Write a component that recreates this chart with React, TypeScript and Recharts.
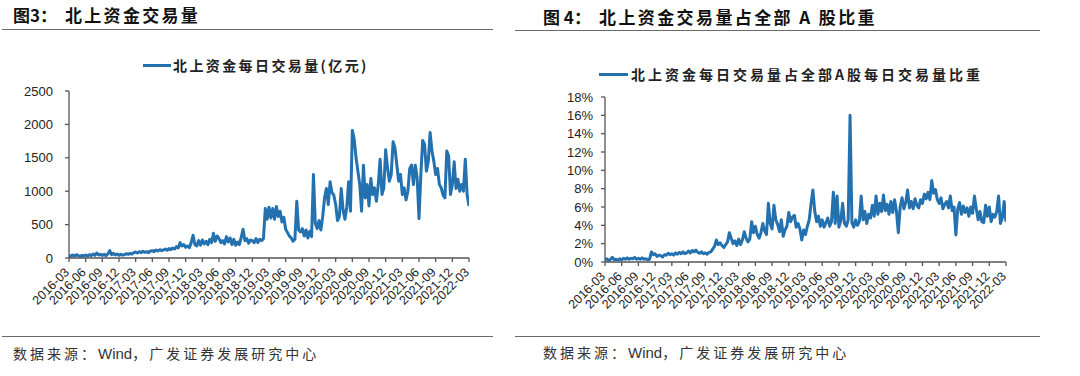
import React from 'react';
import { LineChart, Line, XAxis, YAxis } from 'recharts';

const tickLabels = [
  '2016-03', '2016-06', '2016-09', '2016-12', '2017-03', '2017-06', '2017-09', '2017-12',
  '2018-03', '2018-06', '2018-09', '2018-12', '2019-03', '2019-06', '2019-09', '2019-12',
  '2020-03', '2020-06', '2020-09', '2020-12', '2021-03', '2021-06', '2021-09', '2021-12', '2022-03',
];

// 北上资金每日交易量(亿元), ~3 readings per month from 2016-03 to 2022-03
const volumeValues = [
  40, 25, 45, 30, 50, 35, 25, 40, 30, 45, 30, 50,
  35, 60, 40, 75, 45, 55, 40, 55, 35, 60, 110, 50,
  70, 45, 60, 40, 55, 45, 50, 65, 55, 70, 60, 80,
  90, 75, 95, 80, 100, 85, 95, 80, 105, 110, 95, 120,
  105, 125, 110, 120, 135, 115, 140, 125, 150, 135, 170, 150,
  230, 180, 200, 160, 180, 155, 230, 340, 200, 180, 260, 190,
  270, 210, 250, 200, 280, 230, 370, 250, 330, 290, 230, 260,
  210, 320, 240, 300, 200, 280, 190, 240, 200, 310, 430, 260,
  290, 220, 270, 260, 230, 290, 230, 280, 260, 290, 740, 580,
  760, 600, 740, 580, 770, 620, 700, 540, 610, 430, 380, 330,
  300, 250, 280, 850, 420, 390, 440, 330, 420, 300, 400, 320,
  1250, 520, 440, 560, 420, 620, 900, 1040, 800, 1140, 980, 940,
  800, 560, 620, 1040, 720, 580, 760, 1140, 700, 1910, 1780, 1500,
  1300, 1100, 700, 1390, 900, 1100, 780, 1190, 950, 1050, 850, 1100,
  1480, 950, 1050, 1620, 1350, 1150, 1250, 1740, 1650, 1400, 1150, 1250,
  950, 1050, 870, 1000, 1340, 1390, 1100, 1390, 1200, 590, 1250, 1760,
  1700, 1300, 1440, 1880, 1600, 1450, 1250, 1340, 1100, 1050, 940, 900,
  1600, 1530, 950, 1100, 1440, 1040, 1180, 1000, 1100, 1000, 1480, 940,
  780,
];

// 北上资金每日交易量占全部A股每日交易量比重 (%)
const ratioValues = [
  0.2, 0.35, 0.15, 0.3, 0.5, 0.25, 0.3, 0.2, 0.35, 0.25, 0.4, 0.3,
  0.45, 0.3, 0.4, 0.35, 0.5, 0.3, 0.4, 0.3, 0.45, 0.3, 0.35, 0.25,
  0.3, 1.1, 0.8, 0.9, 0.6, 0.75, 0.7, 0.55, 0.8, 0.75, 0.95, 0.8,
  0.9, 0.75, 1.0, 0.85, 1.05, 0.9, 1.1, 0.9, 1.0, 1.2, 1.0, 1.25,
  1.1, 1.3, 1.05, 0.95, 1.1, 0.9, 1.0, 0.85, 1.05, 1.1, 1.4, 1.7,
  2.4, 1.9, 2.1, 1.8, 1.6, 1.9, 2.2, 3.2, 2.6, 2.0, 2.3, 1.8,
  2.5, 1.9, 2.4, 3.3, 2.6, 2.2, 2.5, 4.4, 3.2, 3.9, 3.0, 2.6,
  3.2, 4.2, 3.4, 3.0, 6.4, 4.2, 3.6, 6.2, 4.6, 4.1, 3.3, 4.6,
  2.8, 3.5, 3.9, 5.4, 4.4, 4.9, 5.1, 3.8, 4.2, 3.6, 2.4, 3.5,
  3.0, 3.9, 4.6, 6.4, 7.85, 5.5, 4.4, 5.0, 3.9, 4.6, 3.8, 4.3,
  4.8, 3.9, 4.4, 7.6, 4.2, 7.2, 3.8, 4.5, 6.4, 4.2, 3.9, 4.6,
  16.0, 4.3, 3.8, 4.6, 4.0, 4.4, 7.2, 4.6, 5.5, 4.2, 5.2, 4.8,
  6.2, 5.0, 7.2, 5.2, 6.4, 5.5, 7.3, 5.6, 6.3, 5.2, 6.6, 5.4,
  6.8, 5.5, 3.2, 6.0, 7.0, 5.8, 6.5, 7.85, 5.9, 6.6, 5.8, 6.9,
  6.2, 5.9, 6.8, 6.4, 7.4, 6.9, 7.6, 6.8, 8.9, 7.5, 7.9, 6.8,
  6.4, 7.0, 5.8, 6.3, 6.6, 5.9, 7.2, 5.6, 6.0, 2.95, 5.8, 6.5,
  5.2, 6.1, 5.4, 5.9, 5.0, 6.0, 5.3, 7.2, 5.8, 4.6, 5.5, 4.4,
  4.3, 6.2, 5.0, 6.0, 4.4, 5.2, 4.9, 5.5, 7.2, 4.2, 4.8, 6.6,
  4.4,
];

const volumeTicks = [0, 500, 1000, 1500, 2000, 2500];
const ratioTicks = [0, 2, 4, 6, 8, 10, 12, 14, 16, 18];

const volumeData = volumeValues.map((v, i) => ({ i, v }));
const ratioData = ratioValues.map((v, i) => ({ i, v }));
const xTicks = tickLabels.map((_, k) => k * 9);
const xMax = (tickLabels.length - 1) * 9;

const BLUE = '#2471b0';
const AXIS = '#555555';
const CJK = '"Noto Sans CJK SC", "Noto Sans", sans-serif';
const LATIN = '"Liberation Sans", Arial, sans-serif';

const XTick = (props: any) => {
  const { x, y, payload } = props;
  const label = tickLabels[Math.round(payload.value / 9)];
  return (
    <text
      x={0}
      y={0}
      transform={`translate(${x + 1},${y + 9}) rotate(-45)`}
      textAnchor="end"
      fontSize={12.5}
      fontFamily={LATIN}
      fill="#222"
    >
      {label}
    </text>
  );
};

const abs = (left: number, top: number, extra: React.CSSProperties = {}): React.CSSProperties => ({
  position: 'absolute',
  left,
  top,
  whiteSpace: 'nowrap',
  ...extra,
});

const titleStyle: React.CSSProperties = {
  fontFamily: CJK,
  fontWeight: 700,
  fontSize: 17,
  lineHeight: '17px',
  color: '#111',
};

const legendStyle: React.CSSProperties = {
  fontFamily: CJK,
  fontWeight: 700,
  fontSize: 14,
  lineHeight: '14px',
  color: '#222',
};

const sourceStyle: React.CSSProperties = {
  fontFamily: CJK,
  fontSize: 14,
  lineHeight: '14px',
  color: '#333',
  letterSpacing: 3,
};

const Rule = ({ left, top, width }: { left: number; top: number; width: number }) => (
  <div style={abs(left, top, { width, height: 0, borderTop: '1.5px solid #6a6a6a' })} />
);

export default function App() {
  return (
    <div style={{ position: 'absolute', left: 0, top: 0, width: 1080, height: 376, background: '#fff', overflow: 'hidden' }}>
      {/* Left panel */}
      <div style={abs(13, 6, titleStyle)}>图3：</div>
      <div style={abs(65, 6, { ...titleStyle, letterSpacing: 2.3 })}>北上资金交易量</div>
      <Rule left={2} top={28.5} width={491} />

      <div style={abs(143, 63.5, { width: 28, height: 3, background: BLUE })} />
      <div style={abs(173, 58, { ...legendStyle, letterSpacing: 2.4 })}>北上资金每日交易量(亿元)</div>

      <div style={abs(0, 0)}>
        <LineChart width={500} height={336} data={volumeData} margin={{ top: 91, right: 31, left: 9, bottom: 0 }}>
          <XAxis
            dataKey="i"
            type="number"
            domain={[0, xMax]}
            ticks={xTicks}
            interval={0}
            tick={<XTick />}
            tickSize={4}
            tickMargin={2}
            height={78}
            stroke={AXIS}
            strokeWidth={1.3}
            allowDataOverflow
          />
          <YAxis
            type="number"
            domain={[0, 2500]}
            ticks={volumeTicks}
            interval={0}
            width={60}
            tickSize={4}
            tickMargin={12}
            stroke={AXIS}
            strokeWidth={1.3}
            tick={{ fontSize: 13, fontFamily: LATIN, fill: '#222' }}
          />
          <Line
            type="linear"
            dataKey="v"
            stroke={BLUE}
            strokeWidth={3}
            strokeLinejoin="round"
            dot={false}
            isAnimationActive={false}
          />
        </LineChart>
      </div>

      <Rule left={2} top={335.5} width={491} />
      <div style={abs(13, 346, sourceStyle)}>
        数据来源：<span style={{ fontFamily: LATIN, fontSize: 15, letterSpacing: 0 }}>Wind</span>，广发证券发展研究中心
      </div>

      {/* Right panel */}
      <div style={abs(543, 8, titleStyle)}>图 4：</div>
      <div style={abs(599, 8, { ...titleStyle, letterSpacing: 2.4 })}>北上资金交易量占全部 A 股比重</div>
      <Rule left={515} top={29.5} width={525} />

      <div style={abs(599, 72.5, { width: 29, height: 3, background: BLUE })} />
      <div style={abs(631, 67, { ...legendStyle, letterSpacing: 3 })}>北上资金每日交易量占全部A股每日交易量比重</div>

      <div style={abs(540, 0)}>
        <LineChart width={500} height={336} data={ratioData} margin={{ top: 97, right: 34, left: 9, bottom: 0 }}>
          <XAxis
            dataKey="i"
            type="number"
            domain={[0, xMax]}
            ticks={xTicks}
            interval={0}
            tick={<XTick />}
            tickSize={4}
            tickMargin={2}
            height={74}
            stroke={AXIS}
            strokeWidth={1.3}
            allowDataOverflow
          />
          <YAxis
            type="number"
            domain={[0, 18]}
            ticks={ratioTicks}
            interval={0}
            width={56}
            tickSize={4}
            tickMargin={8}
            stroke={AXIS}
            strokeWidth={1.3}
            tickFormatter={(v: number) => `${v}%`}
            tick={{ fontSize: 13, fontFamily: LATIN, fill: '#222' }}
          />
          <Line
            type="linear"
            dataKey="v"
            stroke={BLUE}
            strokeWidth={3}
            strokeLinejoin="round"
            dot={false}
            isAnimationActive={false}
          />
        </LineChart>
      </div>

      <Rule left={515} top={335.5} width={525} />
      <div style={abs(543, 345, sourceStyle)}>
        数据来源：<span style={{ fontFamily: LATIN, fontSize: 15, letterSpacing: 0 }}>Wind</span>，广发证券发展研究中心
      </div>
    </div>
  );
}
